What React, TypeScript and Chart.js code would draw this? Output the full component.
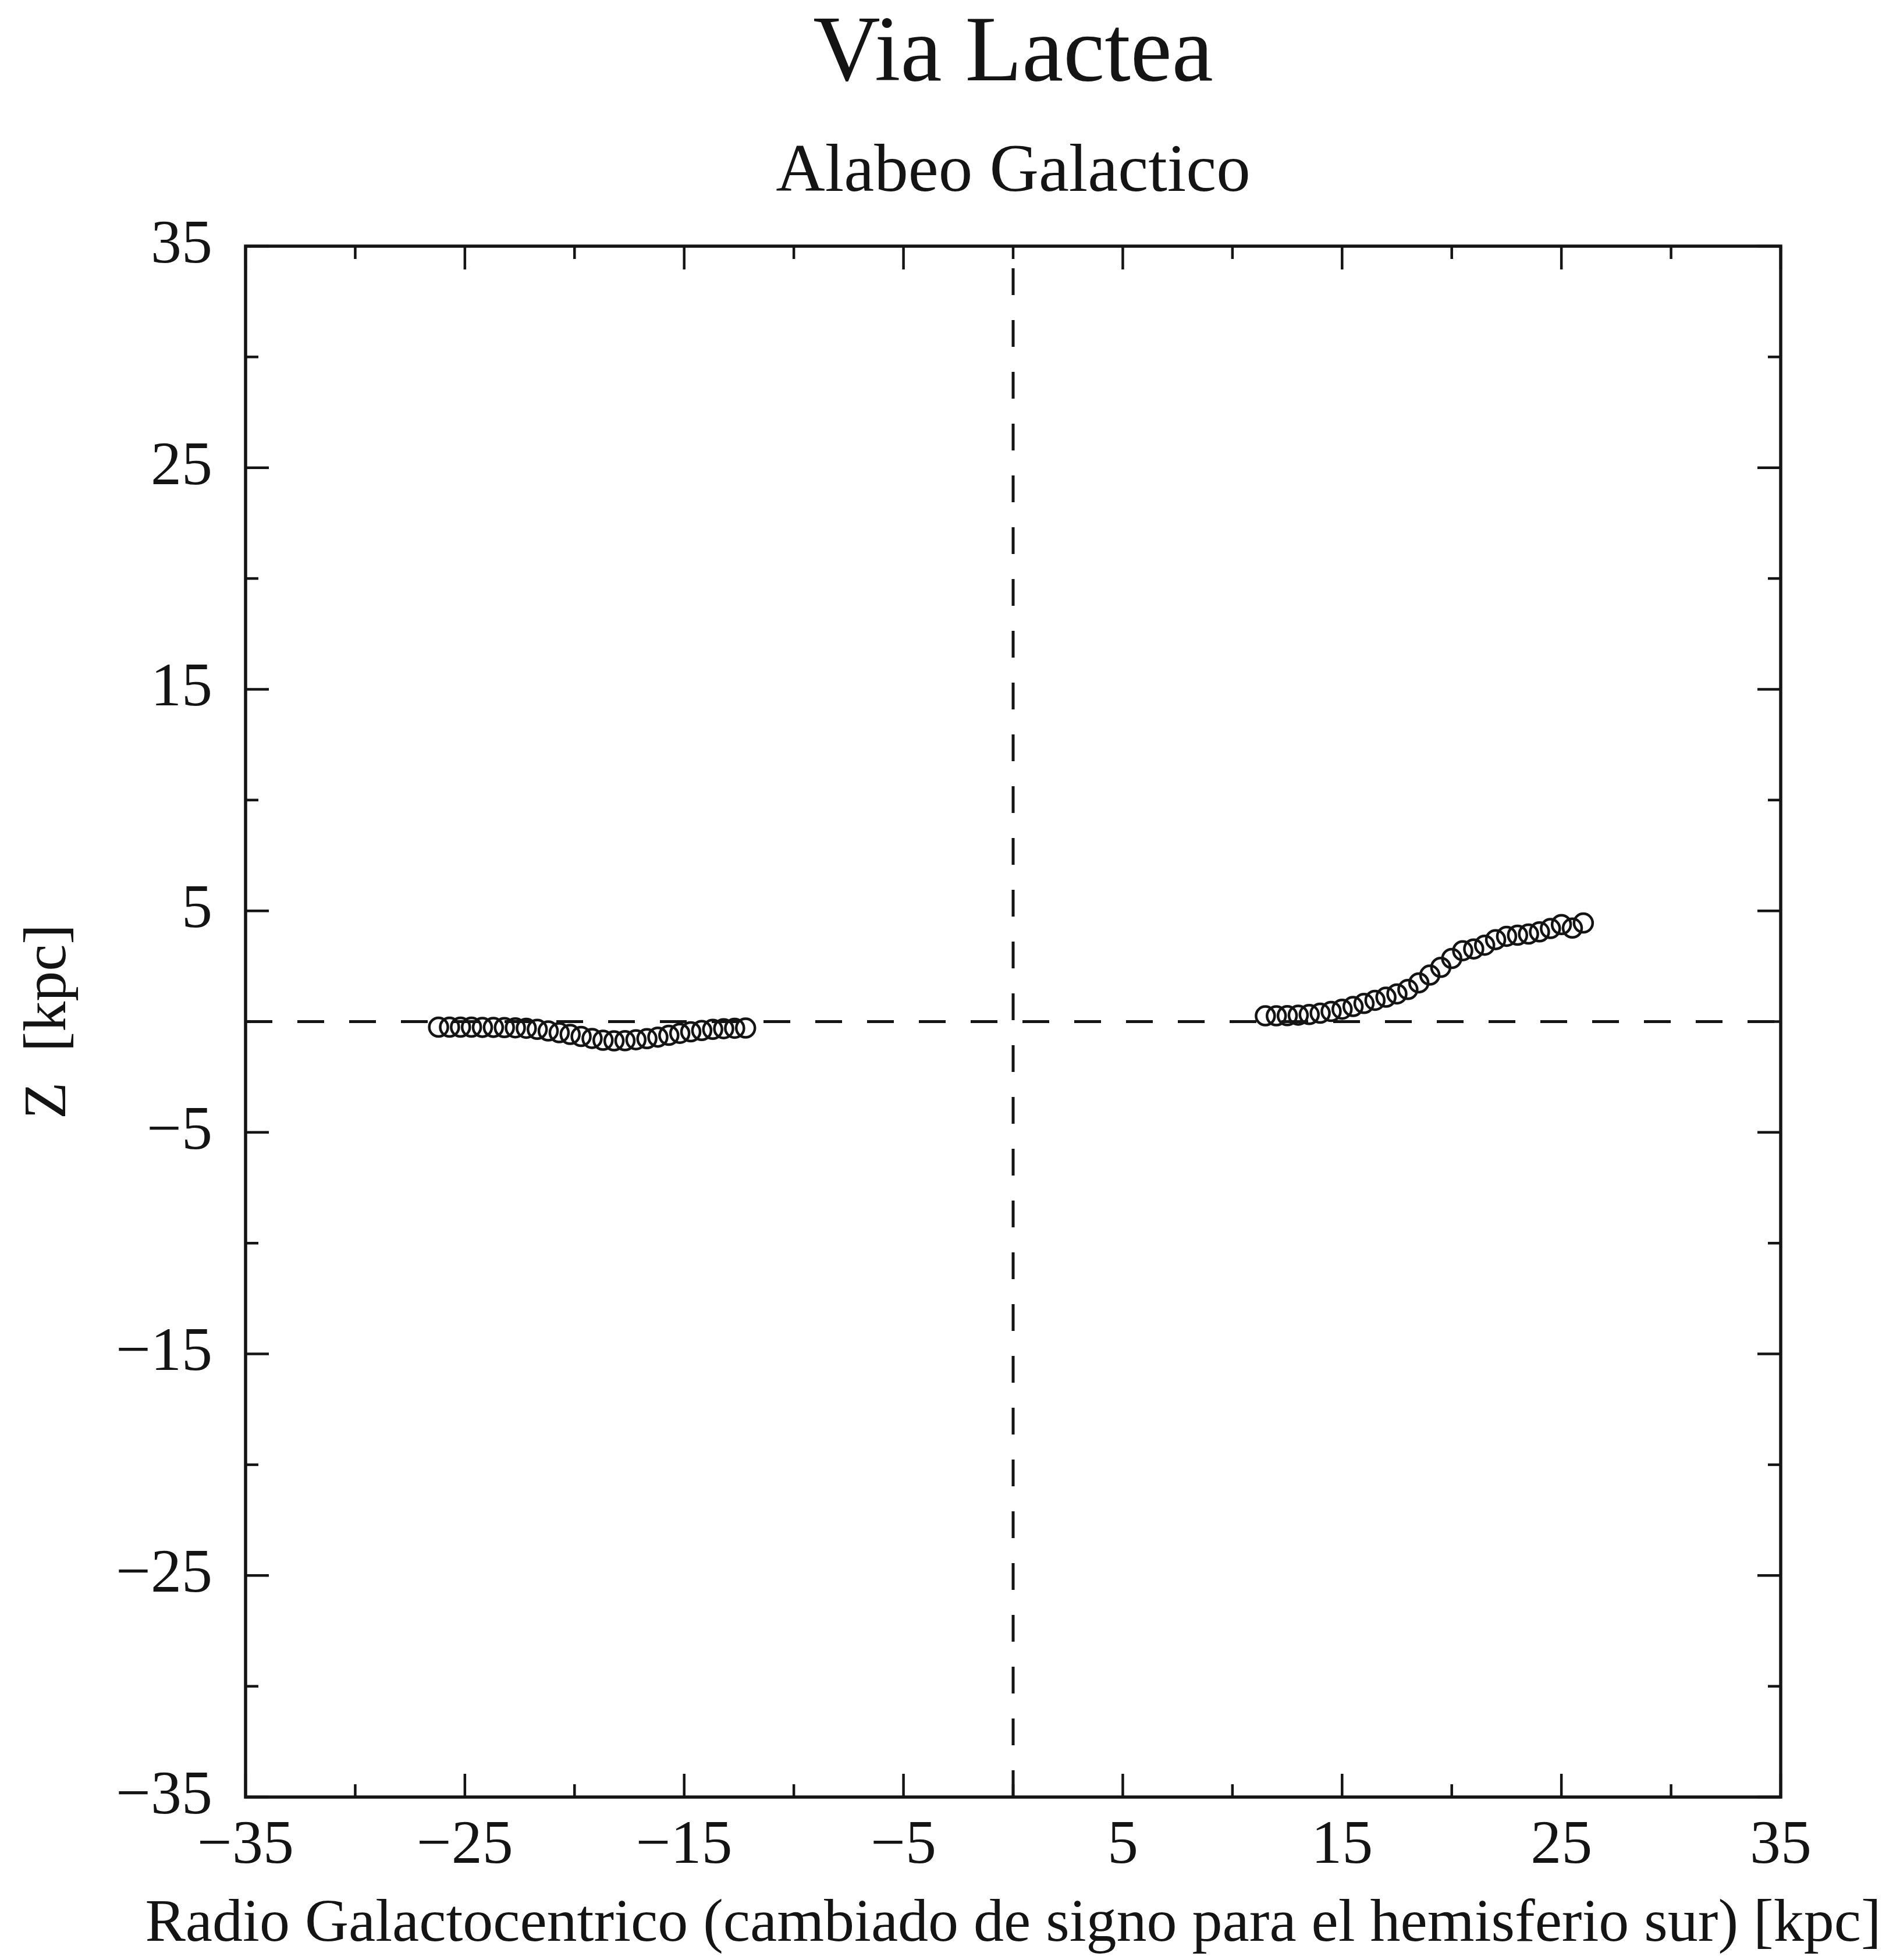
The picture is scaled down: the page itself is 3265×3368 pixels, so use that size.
import React, { useEffect, useRef } from "react";
import { Chart, registerables } from "chart.js";

Chart.register(...registerables);

const TITLE = "Via Lactea";
const SUBTITLE = "Alabeo Galactico";
const X_TITLE = "Radio Galactocentrico (cambiado de signo para el hemisferio sur) [kpc]";
const Y_TITLE = "Z  [kpc]";

const AXIS_MIN = -35;
const AXIS_MAX = 35;
const TICK_STEP = 5;
const LABEL_STEP = 10;

// southern hemisphere (radius with sign changed)
const southR = [
  -26.2, -25.7, -25.2, -24.7, -24.2, -23.7, -23.2, -22.7, -22.2, -21.7,
  -21.2, -20.7, -20.2, -19.7, -19.2, -18.7, -18.2, -17.7, -17.2, -16.7,
  -16.2, -15.7, -15.2, -14.7, -14.2, -13.7, -13.2, -12.7, -12.2,
];
const southZ = [
  -0.25, -0.25, -0.25, -0.25, -0.26, -0.26, -0.27, -0.28, -0.3, -0.35,
  -0.42, -0.5, -0.58, -0.67, -0.76, -0.84, -0.87, -0.86, -0.82, -0.77,
  -0.7, -0.62, -0.53, -0.46, -0.4, -0.35, -0.32, -0.3, -0.29,
];

// northern hemisphere
const northR = [
  11.5, 12.0, 12.5, 13.0, 13.5, 14.0, 14.5, 15.0, 15.5, 16.0,
  16.5, 17.0, 17.5, 18.0, 18.5, 19.0, 19.5, 20.0, 20.5, 21.0,
  21.5, 22.0, 22.5, 23.0, 23.5, 24.0, 24.5, 25.0, 25.5, 26.0,
];
const northZ = [
  0.26, 0.26, 0.27, 0.29, 0.32, 0.38, 0.46, 0.56, 0.68, 0.82,
  0.96, 1.1, 1.25, 1.45, 1.75, 2.1, 2.45, 2.85, 3.2, 3.28,
  3.45, 3.7, 3.85, 3.9, 3.95, 4.05, 4.2, 4.38, 4.22, 4.45,
];

// reference lines
const zeroLineH = [
  { x: AXIS_MIN, y: 0 },
  { x: AXIS_MAX, y: 0 },
];
const zeroLineV = [
  { x: 0, y: AXIS_MIN },
  { x: 0, y: AXIS_MAX },
];

const INK = "#141414";
const FONT = "'Liberation Serif', 'Times New Roman', Times, serif";

const fmt = (v: number) => (v < 0 ? "\u2212" + Math.abs(v) : String(v));
const isMajor = (v: number) => Math.abs(((v - AXIS_MIN) % LABEL_STEP)) < 1e-6;

const framePlugin = {
  id: "frameTicks",
  afterDatasetsDraw(chart: any) {
    const { ctx, chartArea: a, scales } = chart;
    const xs = scales.x;
    const ys = scales.y;
    ctx.save();
    ctx.strokeStyle = INK;
    ctx.lineCap = "butt";
    ctx.lineWidth = 4.5;
    const seg = (x1: number, y1: number, x2: number, y2: number) => {
      ctx.beginPath();
      ctx.moveTo(x1, y1);
      ctx.lineTo(x2, y2);
      ctx.stroke();
    };
    xs.ticks.forEach((t: any) => {
      const p = xs.getPixelForValue(t.value);
      const len = isMajor(t.value) ? 40 : 22;
      seg(p, a.bottom, p, a.bottom - len);
      seg(p, a.top, p, a.top + len);
    });
    ys.ticks.forEach((t: any) => {
      const p = ys.getPixelForValue(t.value);
      const len = isMajor(t.value) ? 40 : 22;
      seg(a.left, p, a.left + len, p);
      seg(a.right, p, a.right - len, p);
    });
    ctx.lineWidth = 5.5;
    ctx.strokeRect(a.left, a.top, a.right - a.left, a.bottom - a.top);

    // x-axis title, drawn without width compression (it is wider than the plot)
    ctx.fillStyle = INK;
    ctx.font = `104px ${FONT}`;
    ctx.textAlign = "center";
    ctx.textBaseline = "middle";
    ctx.fillText(X_TITLE, (a.left + a.right) / 2, xs.bottom - 52);
    ctx.restore();
  },
};

export default function App() {
  const ref = useRef<HTMLCanvasElement | null>(null);

  useEffect(() => {
    if (!ref.current) return;
    const pointStyle = {
      showLine: false,
      pointStyle: "circle",
      pointRadius: 16,
      pointHoverRadius: 16,
      pointBorderWidth: 4.5,
      pointBorderColor: INK,
      pointBackgroundColor: "rgba(0,0,0,0)",
      borderColor: INK,
      backgroundColor: "rgba(0,0,0,0)",
    };
    const dashStyle = {
      showLine: true,
      borderColor: INK,
      borderWidth: 5,
      borderDash: [46, 43],
      pointRadius: 0,
      pointHoverRadius: 0,
      fill: false,
    };
    const chart = new Chart(ref.current, {
      type: "scatter",
      data: {
        datasets: [
          { label: "Z = 0", data: zeroLineH, ...dashStyle } as any,
          { label: "R = 0", data: zeroLineV, ...dashStyle } as any,
          {
            label: "Sur",
            data: southR.map((r, i) => ({ x: r, y: southZ[i] })),
            ...pointStyle,
          } as any,
          {
            label: "Norte",
            data: northR.map((r, i) => ({ x: r, y: northZ[i] })),
            ...pointStyle,
          } as any,
        ],
      },
      options: {
        animation: false,
        responsive: false,
        devicePixelRatio: 1,
        layout: { padding: { left: 0, right: 197, top: 0, bottom: 0 } },
        plugins: {
          legend: { display: false },
          tooltip: { enabled: false },
          title: {
            display: true,
            text: TITLE,
            fullSize: false,
            color: INK,
            font: { family: FONT, size: 160, weight: "normal", lineHeight: 1 },
            padding: { top: 8, bottom: 63 },
          },
          subtitle: {
            display: true,
            text: SUBTITLE,
            fullSize: false,
            color: INK,
            font: { family: FONT, size: 117, weight: "normal", lineHeight: 1 },
            padding: { top: 0, bottom: 67 },
          },
        },
        scales: {
          x: {
            type: "linear",
            position: "bottom",
            min: AXIS_MIN,
            max: AXIS_MAX,
            afterFit: (s: any) => {
              s.height = 272;
            },
            ticks: {
              stepSize: TICK_STEP,
              autoSkip: false,
              maxRotation: 0,
              minRotation: 0,
              padding: 32,
              color: INK,
              font: { family: FONT, size: 106, lineHeight: 1 },
              callback: (v: any) => (isMajor(Number(v)) ? fmt(Number(v)) : ""),
            },
            grid: { display: false, drawTicks: false },
            border: { display: false },
            title: { display: false, text: X_TITLE },
          },
          y: {
            type: "linear",
            position: "left",
            min: AXIS_MIN,
            max: AXIS_MAX,
            afterFit: (s: any) => {
              s.width = 414;
            },
            ticks: {
              stepSize: TICK_STEP,
              autoSkip: false,
              padding: 57,
              color: INK,
              font: { family: FONT, size: 106, lineHeight: 1 },
              callback: (v: any) => (isMajor(Number(v)) ? fmt(Number(v)) : ""),
            },
            grid: { display: false, drawTicks: false },
            border: { display: false },
            title: {
              display: true,
              text: Y_TITLE,
              color: INK,
              font: { family: FONT, size: 104, lineHeight: 1.2 },
              padding: { top: 14, bottom: 0 },
            },
          },
        },
      } as any,
      plugins: [framePlugin],
    });
    return () => chart.destroy();
  }, []);

  return (
    <div style={{ width: 3249, height: 3352, background: "#fff" }}>
      <canvas ref={ref} width={3249} height={3352} style={{ display: "block" }} />
    </div>
  );
}
